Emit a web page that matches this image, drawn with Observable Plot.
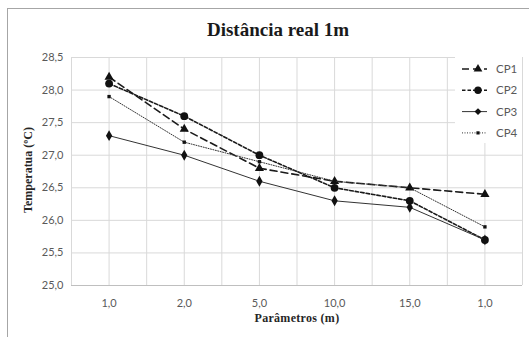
<!DOCTYPE html>
<html><head><meta charset="utf-8">
<script src="https://cdn.jsdelivr.net/npm/d3@7"></script>
<script src="https://cdn.jsdelivr.net/npm/@observablehq/plot@0.6"></script>
<style>
body{margin:0;background:#fff;}
#wrap{position:relative;width:529px;height:337px;overflow:hidden;background:#fff;}
#frame{position:absolute;left:7px;top:8px;width:540px;height:340px;border:1px solid #a6a6a6;}
#chart{position:absolute;left:0;top:0;}
#title{position:absolute;left:0;width:556px;top:19px;text-align:center;font:bold 19px "Liberation Serif",serif;color:#1a1a1a;}
#xlab{position:absolute;left:0;width:594px;top:311px;text-align:center;font:bold 12px "Liberation Serif",serif;color:#262626;letter-spacing:0.3px;}
#ylab{position:absolute;left:28px;top:170px;transform:translate(-50%,-50%) rotate(-90deg);white-space:nowrap;font:bold 12px "Liberation Serif",serif;color:#262626;}
#legend{position:absolute;left:455px;top:57px;}
</style></head><body>
<div id="wrap"><div id="frame"></div><div id="chart"></div>
<div id="title">Distância real 1m</div>
<div id="xlab">Parâmetros (m)</div>
<div id="ylab">Temperatua (ºC)</div>
<div id="legend"></div>
</div>
<script>
const xLabels = ["1,0", "2,0", "5,0", "10,0", "15,0", "1,0"];
const seriesNames = ["CP1", "CP2", "CP3", "CP4"];
const cp1 = [28.2, 27.4, 26.8, 26.6, 26.5, 26.4];
const cp2 = [28.1, 27.6, 27.0, 26.5, 26.3, 25.7];
const cp3 = [27.3, 27.0, 26.6, 26.3, 26.2, 25.7];
const cp4 = [27.9, 27.2, 26.9, 26.6, 26.5, 25.9];
const yTicks = [25.0, 25.5, 26.0, 26.5, 27.0, 27.5, 28.0, 28.5];

const styles = {
  CP1: {dash: "7,4", width: 1.6, color: "#1a1a1a", symbol: "triangle", r: 3.4},
  CP2: {dash: "3.5,2", width: 1.6, color: "#1a1a1a", symbol: "circle", r: 3.9},
  CP3: {dash: null, width: 1, color: "#333", symbol: "diamond", r: 3.3},
  CP4: {dash: "1,1.5", width: 1, color: "#333", symbol: "square", r: 1.9}
};
const values = {CP1: cp1, CP2: cp2, CP3: cp3, CP4: cp4};
const data = seriesNames.flatMap(s => values[s].map((v, i) => ({series: s, i, v})));
const grid = d3.range(-0.5, xLabels.length, 0.5);

const marks = [
  Plot.ruleY(yTicks, {y: d => d, stroke: "#d9d9d9", strokeWidth: 1}),
  Plot.ruleX(grid, {x: d => d, stroke: "#d9d9d9", strokeWidth: 1}),
  Plot.ruleY([25], {stroke: "#bfbfbf", strokeWidth: 1}),
  Plot.axisX({ticks: d3.range(xLabels.length), tickFormat: i => xLabels[i], tickSize: 0, tickPadding: 14, label: null, fontSize: 11, fontFamily: "Lato, sans-serif", fill: "#595959"}),
  Plot.axisY({ticks: yTicks, tickFormat: d => d.toFixed(1).replace(".", ","), tickSize: 0, tickPadding: 8, label: null, fontSize: 11, fontFamily: "Lato, sans-serif", fill: "#595959"})
];
for (const s of seriesNames) {
  const st = styles[s];
  const d = data.filter(e => e.series === s);
  marks.push(Plot.line(d, {x: "i", y: "v", stroke: st.color, strokeWidth: st.width, strokeDasharray: st.dash}));
  marks.push(Plot.dot(d, {x: "i", y: "v", symbol: st.symbol, r: st.r, fill: "#111", stroke: "none"}));
}

const chart = Plot.plot({
  width: 529, height: 337,
  marginLeft: 71, marginRight: 7, marginTop: 57, marginBottom: 52,
  x: {type: "linear", domain: [-0.5, xLabels.length - 0.5]},
  y: {domain: [25, 28.5]},
  style: {background: "transparent"},
  marks
});
document.getElementById("chart").append(chart);

// legend
const lg = d3.select("#legend").append("svg").attr("width", 67).attr("height", 86)
  .style("background", "#fff").style("display", "block");
seriesNames.forEach((s, k) => {
  const st = styles[s];
  const cy = 12 + k * 21.3;
  lg.append("line").attr("x1", 7).attr("x2", 32).attr("y1", cy).attr("y2", cy)
    .attr("stroke", st.color).attr("stroke-width", st.width)
    .attr("stroke-dasharray", st.dash);
  lg.append("path").attr("transform", `translate(23,${cy})`)
    .attr("d", d3.symbol(({triangle: d3.symbolTriangle, circle: d3.symbolCircle, diamond: d3.symbolDiamond2, square: d3.symbolSquare})[st.symbol], Math.PI * st.r * st.r * 0.9)())
    .attr("fill", "#111");
  lg.append("text").attr("x", 41).attr("y", cy).attr("dy", "0.35em")
    .attr("font-family", "Lato, sans-serif").attr("font-size", 11.5).attr("fill", "#595959").text(s);
});
</script>
</body></html>
